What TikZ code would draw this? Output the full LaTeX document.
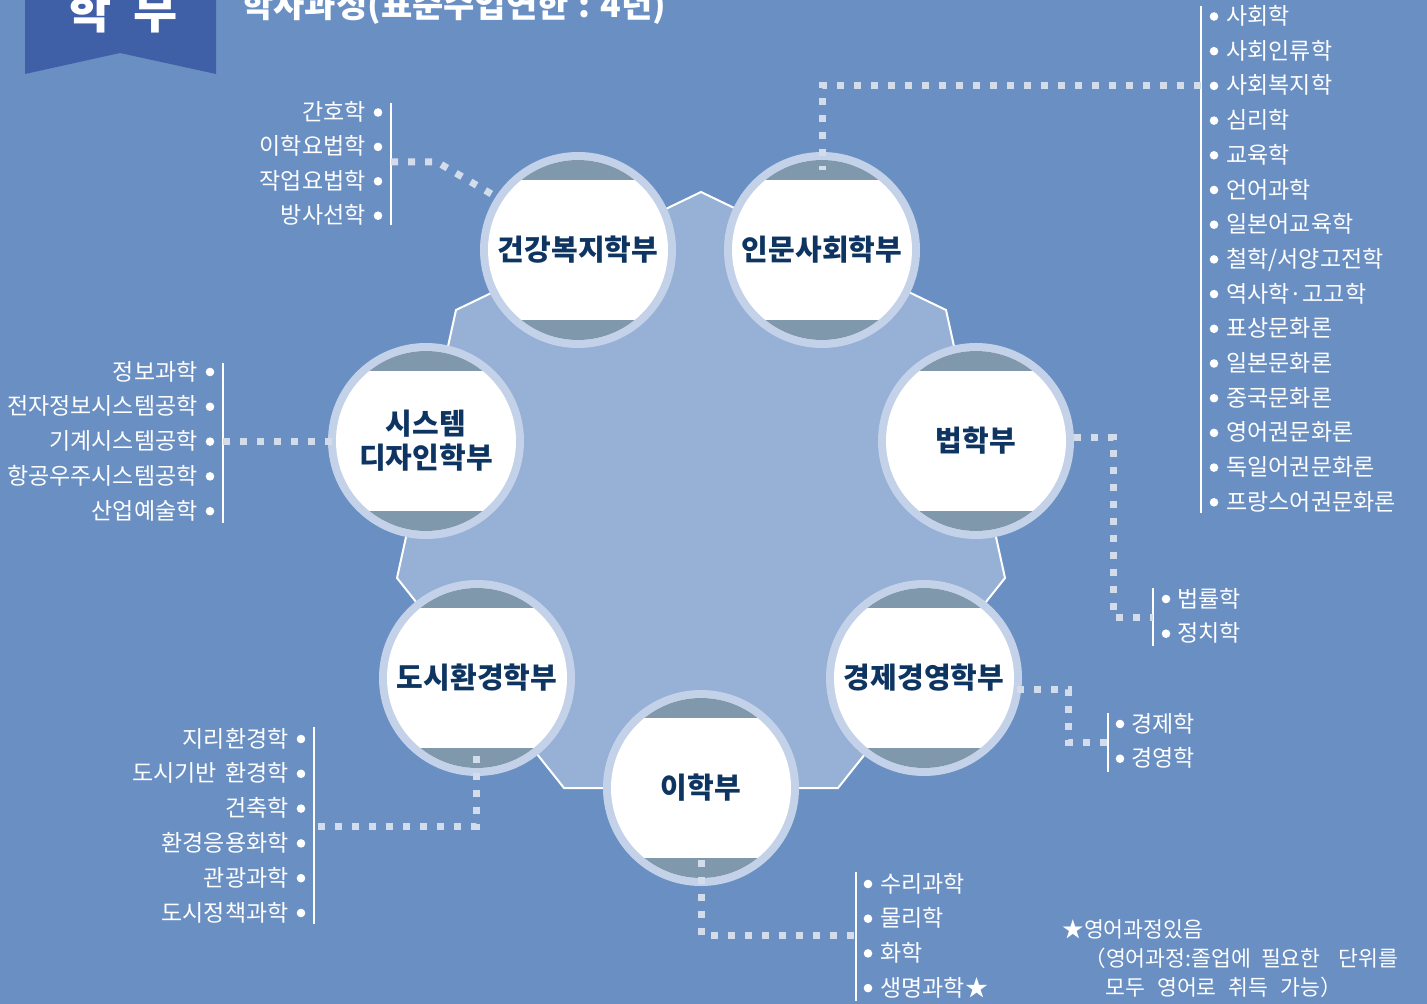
\documentclass[tikz,border=0pt]{standalone}
\usepackage{fontspec}
\setmainfont{Noto Sans CJK KR}
\usetikzlibrary{calc}
\definecolor{bgc}{HTML}{6A8FC3}
\definecolor{bannerc}{HTML}{3F5FA7}
\definecolor{polyc}{HTML}{97B0D6}
\definecolor{ringc}{HTML}{C3D2E8}
\definecolor{capc}{HTML}{8098AC}
\definecolor{navy}{HTML}{0E3561}
\definecolor{dotc}{HTML}{D2DCEB}
\begin{document}
\begin{tikzpicture}[x=0.5pt,y=-0.5pt,
  dept/.style={circle, minimum size=98pt, inner sep=0pt, fill=ringc, text=navy, align=center,
    font=\fontsize{14.5pt}{17pt}\selectfont\bfseries,
    path picture={
      \coordinate (ppc) at (path picture bounding box.center);
      \fill[white] (ppc) circle (45pt);
      \begin{scope}
        \clip (ppc) circle (45pt);
        \fill[capc] ($(ppc)+(-50pt,35pt)$) rectangle ($(ppc)+(50pt,50pt)$);
        \fill[capc] ($(ppc)+(-50pt,-35pt)$) rectangle ($(ppc)+(50pt,-50pt)$);
      \end{scope}}},
  itemL/.style={anchor=east, inner sep=0pt, text=white, font=\fontsize{11.5pt}{13pt}\selectfont, text height=9.2pt, text depth=1.1pt},
  itemR/.style={itemL, anchor=west},
  bul/.style={circle, fill=white, inner sep=0pt, minimum size=4.3pt},
  vline/.style={draw=white, line width=0.6pt},
  dots/.style={draw=dotc, line width=3.5pt, dash pattern=on 3.5pt off 5pt},
  note/.style={anchor=west, inner sep=0pt, text=white, font=\fontsize{10.8pt}{12pt}\selectfont, text height=8.6pt, text depth=1pt}
]
\useasboundingbox (0,0) rectangle (1427,1004);
\clip (0,0) rectangle (1427,1004);
\fill[bgc] (0,0) rectangle (1427,1004);

% banner and title
\fill[bannerc] (25,-10) -- (216,-10) -- (216,74) -- (120,53) -- (25,74) -- cycle;
\node[anchor=base, inner sep=0pt, text=white, font=\fontsize{24pt}{24pt}\selectfont\bfseries] (bannertxt) at (123,29) {학\hspace{11pt}부};
\node[anchor=base west, inner sep=0pt, text=white, font=\fontsize{17pt}{18pt}\selectfont\bfseries] (title) at (242,18) {학사과정(표준수업연한\hspace{5pt}:\hspace{5pt}4년)};

% central polygon
\draw[white, line width=1pt, fill=polyc] (701,192) -- (946,310) -- (1005,578) -- (838,788) -- (564,788) -- (397,578) -- (456,310) -- cycle;

% departments
\node[dept] (c1) at (578,250) {건강복지학부};
\node[dept] (c2) at (822,250) {인문사회학부};
\node[dept] (c3) at (976,441) {법학부};
\node[dept] (c4) at (924,678) {경제경영학부};
\node[dept] (c5) at (701,788) {이학부};
\node[dept] (c6) at (477,678) {도시환경학부};
\node[dept] (c7) at (426,441) {시스템\\디자인학부};

% list lines
\coordinate (k1) at (391,162);
\draw[vline] (391,103) -- (391,225);
\coordinate (k2) at (1201,86);
\draw[vline] (1201,6) -- (1201,513);
\coordinate (k3) at (1153,617);
\draw[vline] (1153,588) -- (1153,646);
\coordinate (k4) at (1108,742);
\draw[vline] (1108,713) -- (1108,772);
\coordinate (k5) at (856,935);
\draw[vline] (856,872) -- (856,1001);
\coordinate (k6) at (314,826);
\draw[vline] (314,727) -- (314,924);
\coordinate (k7) at (223,442);
\draw[vline] (223,363) -- (223,523);

% dotted connectors
\draw[dots] (k1) -- ++(46,0) -- (c1.147);
\draw[dots] (k2) -| ($(c2.center)+(0,-80)$);
\draw[dots] (c3.2) -- ++(39,0) |- (k3);
\draw[dots] ($(c4.center)+(93,11)$) -- ++(51,0) |- (k4);
\draw[dots] ($(c5.center)+(0,72)$) |- (k5);
\draw[dots] ($(c6.center)+(-1,78)$) |- (k6);
\draw[dots] (k7) -- ($(c7.center)+(-92,1)$);

% lists
\foreach \t [count=\i] in {간호학,이학요법학,작업요법학,방사선학}{
  \node[bul] (b1-\i) at (378,{112.5+34.4*(\i-1)}) {};
  \node[itemL] (t1-\i) at (366,{112.5+34.4*(\i-1)}) {\t};
}
\foreach \t [count=\i] in {사회학,사회인류학,사회복지학,심리학,교육학,언어과학,일본어교육학,철학/서양고전학,역사학·고고학,표상문화론,일본문화론,중국문화론,영어권문화론,독일어권문화론,프랑스어권문화론}{
  \node[bul] (b2-\i) at (1214,{16.5+34.7*(\i-1)}) {};
  \node[itemR] (t2-\i) at (1226,{16.5+34.7*(\i-1)}) {\t};
}
\foreach \t [count=\i] in {법률학,정치학}{
  \node[bul] (b3-\i) at (1166,{599+34.7*(\i-1)}) {};
  \node[itemR] (t3-\i) at (1177,{599+34.7*(\i-1)}) {\t};
}
\foreach \t [count=\i] in {경제학,경영학}{
  \node[bul] (b4-\i) at (1120,{724+34.7*(\i-1)}) {};
  \node[itemR] (t4-\i) at (1131,{724+34.7*(\i-1)}) {\t};
}
\foreach \t [count=\i] in {수리과학,물리학,화학,생명과학★}{
  \node[bul] (b5-\i) at (868,{884+34.7*(\i-1)}) {};
  \node[itemR] (t5-\i) at (880,{884+34.7*(\i-1)}) {\t};
}
\foreach \t [count=\i] in {지리환경학,도시기반\hspace{4pt}환경학,건축학,환경응용화학,관광과학,도시정책과학}{
  \node[bul] (b6-\i) at (301,{739+34.8*(\i-1)}) {};
  \node[itemL] (t6-\i) at (289,{739+34.8*(\i-1)}) {\t};
}
\foreach \t [count=\i] in {정보과학,전자정보시스템공학,기계시스템공학,항공우주시스템공학,산업예술학}{
  \node[bul] (b7-\i) at (210,{372+34.8*(\i-1)}) {};
  \node[itemL] (t7-\i) at (198,{372+34.8*(\i-1)}) {\t};
}

% note
\node[note] (n1) at (1062,930) {★영어과정있음};
\node[note] (n2) at (1084,959) {（영어과정:졸업에\hspace{5pt}필요한\hspace{9pt}단위를};
\node[note] (n3) at (1105,988) {모두\hspace{6pt}영어로\hspace{6pt}취득\hspace{6pt}가능）};
\end{tikzpicture}
\end{document}
